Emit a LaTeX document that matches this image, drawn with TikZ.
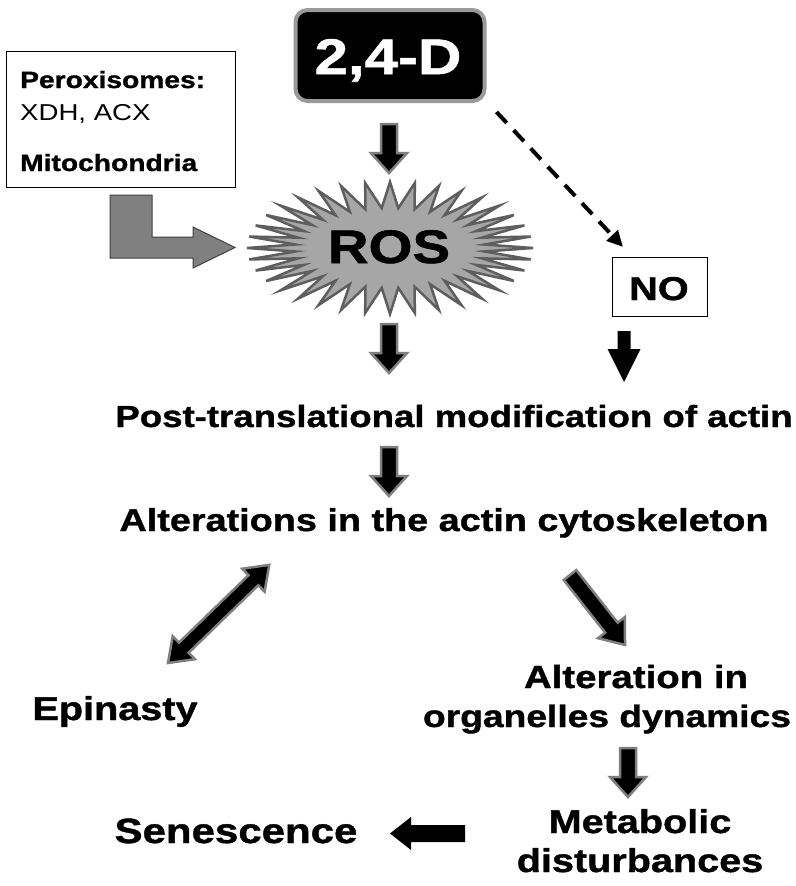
\documentclass[tikz,border=0pt]{standalone}
\usepackage{fontspec}
\setmainfont{Liberation Sans}[FakeStretch=1.2, BoldFeatures={FakeBold=1.2}]
\usetikzlibrary{arrows.meta,calc}
\definecolor{rosfill}{HTML}{A6A6A6}
\definecolor{rosedge}{HTML}{5E5E5E}
\definecolor{agray}{HTML}{7F7F7F}
\definecolor{lfill}{HTML}{808080}
\definecolor{boxgray}{HTML}{9A9A9A}
\newcommand\fsz[1]{\fontsize{#1}{#1}\selectfont}
% block arrow: style, x, y, angle, length, shaft half width, head half width, head length
\newcommand\blockarr[8]{\draw[#1,shift={(#2,#3)},rotate=#4] (0,-#6) -- ({#5-#8},-#6) -- ({#5-#8},-#7) -- (#5,0) -- ({#5-#8},#7) -- ({#5-#8},#6) -- (0,#6) -- cycle;}
\begin{document}
\begin{tikzpicture}[x=1pt,y=-1pt,
  lbl/.style={font=\bfseries\fsz{30.5}, inner sep=0pt, anchor=base},
  big/.style={font=\bfseries\fsz{32}, inner sep=0pt, anchor=base},
  barrow/.style={fill=black, draw=agray, line width=2.5pt, line join=miter},
  karrow/.style={fill=black, draw=none},
]
\fill[white] (0,0) rectangle (795,886);
\useasboundingbox (0,0) rectangle (795,886);

% 2,4-D
\node[fill=black, draw=boxgray, line width=4pt, rounded corners=12pt, minimum width=189pt, minimum height=91pt, inner sep=0pt] (d24) at (390,55.5) {};
\node[font=\bfseries\fsz{50}, text=white, inner sep=0pt, anchor=base] (d24t) at (388,74) {2,4-D};

% Peroxisomes box
\node[draw=black, line width=1pt, minimum width=229pt, minimum height=136pt, inner sep=0pt] (perox) at (120.5,119) {};
\node[font=\bfseries\fsz{23.5}, inner sep=0pt, anchor=base west] (perox1) at (20,88) {Peroxisomes:};
\node[font=\fsz{23}, inner sep=0pt, anchor=base west] (perox2) at (20,120) {XDH, ACX};
\node[font=\bfseries\fsz{23.5}, inner sep=0pt, anchor=base west] (perox3) at (20,171) {Mitochondria};

% L-shaped arrow
\draw[fill=lfill, draw=black!75, line width=1pt, line join=miter] (110,195) -- (152,195) -- (152,237) -- (193,237) -- (193,227) -- (235,247.5) -- (193,268) -- (193,258) -- (110,258) -- cycle;

% ROS starburst
\draw[fill=rosfill, draw=rosedge, line width=2.5pt, line join=miter]
  plot[samples at={0,...,71}] ({390+(119+24*cos(\x*180))*cos(\x*5)}, {248+(53+13*cos(\x*180))*sin(\x*5)}) -- cycle;
\node[font=\bfseries\fsz{47}, inner sep=0pt, anchor=base] (ros) at (389,263) {ROS};

% dashed arrow to NO
\coordinate (notip) at (623,247);
\draw[line width=4pt, dash pattern=on 15pt off 10pt, -{Triangle[length=16pt,width=15pt]}] ($(d24.south east)+(10,9)$) -- (notip);
\node[draw=black, line width=1pt, minimum width=95pt, minimum height=59pt, inner sep=0pt] (no) at (659.5,286.5) {};
\node[font=\bfseries\fsz{33}, inner sep=0pt, anchor=base] (not) at (659,300) {NO};

% block arrows
\blockarr{barrow}{389}{124}{-90}{49}{8}{18}{20}
\blockarr{barrow}{389}{324}{-90}{49}{8}{18}{20}
\blockarr{karrow}{624}{331}{-90}{51}{6.5}{16.5}{33}

% main text
\node[lbl] (ptm) at (454,427) {Post-translational modification of actin};
\blockarr{barrow}{389}{447}{-90}{49}{8}{18}{20}
\node[lbl, font=\bfseries\fsz{31.5}] (alt) at (444,531) {Alterations in the actin cytoskeleton};

% double arrow
\draw[barrow, shift={(168,663)}, rotate=44.1] (0,0) -- (22,-16) -- (22,-7) -- (119,-7) -- (119,-16) -- (141,0) -- (119,16) -- (119,7) -- (22,7) -- (22,16) -- cycle;
% right arrow
\blockarr{barrow}{570}{575}{-51.8}{89}{8}{17}{22}

\node[big, font=\bfseries\fsz{33}] (epi) at (115,720) {Epinasty};
\node[big] (org1) at (636,688) {Alteration in};
\node[big, font=\bfseries\fsz{31}] (org2) at (607,727) {organelles dynamics};
\blockarr{barrow}{628}{748}{-90}{49}{8}{18}{20}
\node[big, font=\bfseries\fsz{33}] (met1) at (640,833) {Metabolic};
\node[big, font=\bfseries\fsz{33}] (met2) at (640,872) {disturbances};
\blockarr{karrow}{465}{833.5}{180}{75}{8.5}{16.5}{21}
\node[font=\bfseries\fsz{35}, inner sep=0pt, anchor=base] (sen) at (236,843) {Senescence};
\end{tikzpicture}
\end{document}
